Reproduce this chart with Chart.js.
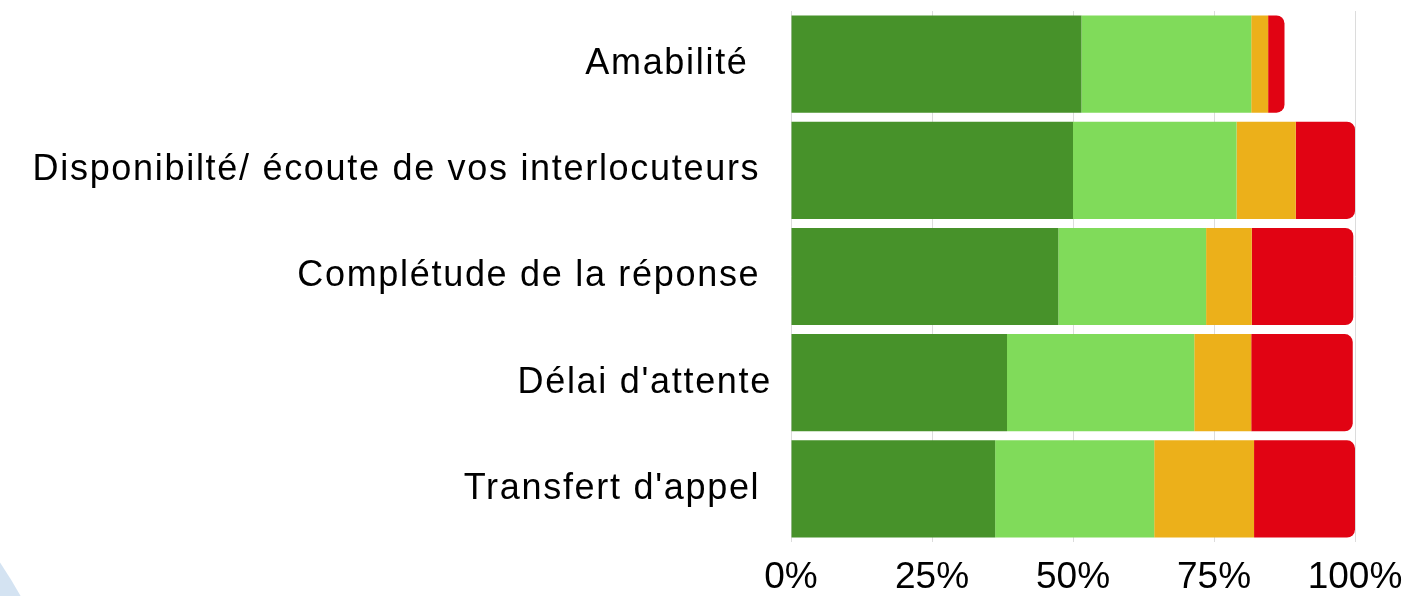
<!DOCTYPE html>
<html lang="fr">
<head>
<meta charset="utf-8">
<script src="https://cdn.jsdelivr.net/npm/chart.js@4"></script>
<style>
    html, body { margin: 0; padding: 0; background: #ffffff; overflow: hidden; }
    #wrap { position: relative; width: 1410px; height: 596px; overflow: hidden; }
    #deco {
        position: absolute;
        left: -839px; top: 361px;
        width: 918px; height: 918px;
        border-radius: 50%;
        background: #d4e3f2;
    }
    canvas { position: absolute; left: 0; top: 0; }
</style>
</head>
<body>
<div id="wrap">
    <div id="deco"></div>
    <canvas id="satisfaction-chart" width="1410" height="596"></canvas>
</div>
<script>
// categories (trailing spaces as in the original labels)
const categories = [
    'Amabilité  ',
    'Disponibilté/ écoute de vos interlocuteurs ',
    'Complétude de la réponse ',
    "Délai d'attente",
    "Transfert d'appel "
];

// share of answers, in %
const tresSatisfait = [51.5, 50.0, 47.4, 38.3, 36.2];
const satisfait     = [30.1, 29.0, 26.2, 33.2, 28.2];
const peuSatisfait  = [3.0, 10.5, 8.1, 10.1, 17.7];
const pasSatisfait  = [2.9, 10.5, 18.0, 18.0, 17.9];

const xTicks = [0, 25, 50, 75, 100];

// the category labels are a little wider-set than plain Arial
const spacedLabels = {
    id: 'spacedLabels',
    beforeDraw(chart) {
        const yScale = chart.scales.y;
        if (yScale._spaced) return;
        const original = yScale.drawLabels.bind(yScale);
        yScale.drawLabels = (area) => {
            chart.ctx.save();
            chart.ctx.letterSpacing = '1.7px';
            original(area);
            chart.ctx.restore();
        };
        yScale._spaced = true;
    }
};

const ctx = document.getElementById('satisfaction-chart').getContext('2d');

const chart = new Chart(ctx, {
    type: 'bar',
    data: {
        labels: categories,
        datasets: [
            { label: 'Très satisfait', data: tresSatisfait, backgroundColor: '#47922a' },
            { label: 'Satisfait', data: satisfait, backgroundColor: '#80db5a' },
            { label: 'Peu satisfait', data: peuSatisfait, backgroundColor: '#ecb01a' },
            {
                label: 'Pas satisfait',
                data: pasSatisfait,
                backgroundColor: '#e10313',
                borderRadius: 8,
                borderSkipped: 'start'
            }
        ]
    },
    options: {
        indexAxis: 'y',
        responsive: false,
        animation: false,
        devicePixelRatio: 1,
        categoryPercentage: 1,
        barPercentage: 0.915,
        layout: {
            padding: { top: 11, right: 55, left: 0, bottom: 0 }
        },
        plugins: {
            legend: { display: false },
            tooltip: { enabled: false }
        },
        scales: {
            x: {
                stacked: true,
                min: 0,
                max: 100,
                afterBuildTicks: (scale) => {
                    scale.ticks = xTicks.map(v => ({ value: v }));
                },
                afterFit: (scale) => {
                    scale.height = 54;
                    scale.paddingLeft = 0;
                    scale.paddingRight = 0;
                },
                ticks: {
                    callback: (value) => value + '%',
                    color: '#000000',
                    padding: 14,
                    maxRotation: 0,
                    font: { family: 'Liberation Sans, Arial, sans-serif', size: 37 }
                },
                grid: {
                    color: '#dcdcdc',
                    lineWidth: 1,
                    drawTicks: false
                },
                border: { display: false }
            },
            y: {
                stacked: true,
                afterFit: (scale) => {
                    scale.width = 791;
                    scale.paddingTop = 0;
                    scale.paddingBottom = 0;
                },
                ticks: {
                    color: '#000000',
                    padding: 11,
                    font: { family: 'Liberation Sans, Arial, sans-serif', size: 36 }
                },
                grid: { display: false },
                border: { display: false }
            }
        }
    },
    plugins: [spacedLabels]
});
</script>
</body>
</html>
